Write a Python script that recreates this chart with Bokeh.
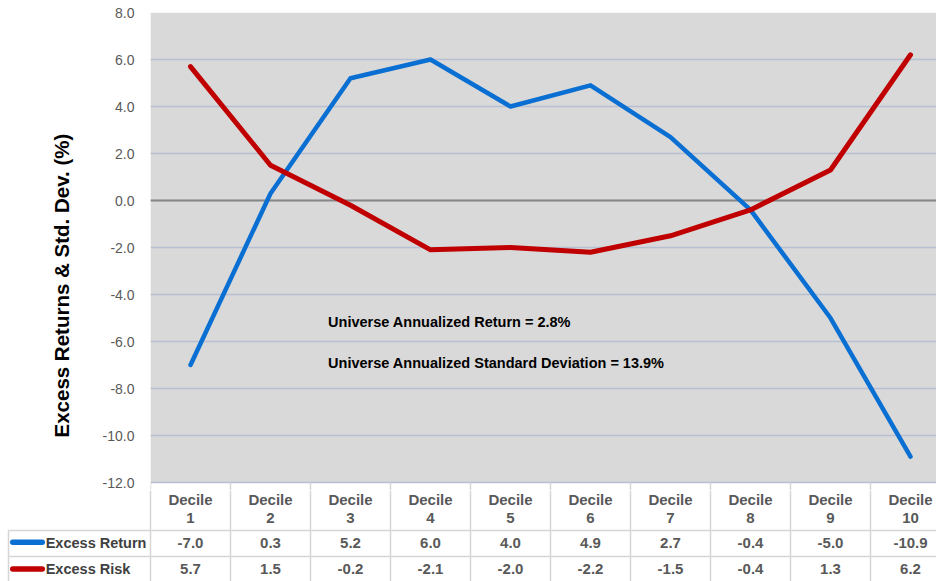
from bokeh.plotting import figure
from bokeh.models import Range1d, FixedTicker, NumeralTickFormatter, Span, Title, BoxAnnotation
from bokeh.layouts import column
from bokeh.embed import file_html
from bokeh.resources import INLINE
from bokeh.core.properties import value

# ---- data ----
categories = ["Decile 1", "Decile 2", "Decile 3", "Decile 4", "Decile 5",
              "Decile 6", "Decile 7", "Decile 8", "Decile 9", "Decile 10"]
excess_return = [-7.0, 0.3, 5.2, 6.0, 4.0, 4.9, 2.7, -0.4, -5.0, -10.9]
excess_risk = [5.7, 1.5, -0.2, -2.1, -2.0, -2.2, -1.5, -0.4, 1.3, 6.2]
series_names = ["Excess Return", "Excess Risk"]
y_ticks = [-12, -10, -8, -6, -4, -2, 0, 2, 4, 6, 8]
notes = ["Universe  Annualized Return = 2.8%",
         "Universe  Annualized Standard Deviation = 13.9%"]
y_label = "Excess Returns & Std. Dev. (%)"

BLUE = "#0a6fd2"
RED = "#c00000"
FONT = "Liberation Sans"
GRID = "#d6d6d6"

n = len(categories)
xs = list(range(1, n + 1))
bounds = [i + 0.5 for i in range(n + 1)]
X_END = 10.325
Y_MIN, Y_MAX = y_ticks[0], y_ticks[-1]
Y_LOW = -12.34  # a little room under the plot area for the table's column rules

# ---- chart ----
p = figure(width=936, height=490, x_range=Range1d(0.5, X_END), y_range=Range1d(Y_LOW, Y_MAX),
           output_backend="svg", toolbar_location=None, x_axis_location=None,
           min_border_left=150, min_border_right=0, min_border_top=12, min_border_bottom=0)
p.background_fill_color = "white"
p.border_fill_color = "white"
p.outline_line_color = None

p.add_layout(BoxAnnotation(bottom=Y_MIN, top=Y_MAX, fill_color="#d9d9d9", fill_alpha=1,
                           line_color=None, level="image"))

ax = p.yaxis[0]
ax.ticker = FixedTicker(ticks=y_ticks)
ax.formatter = NumeralTickFormatter(format="0.0")
ax.axis_line_color = None
ax.major_tick_line_color = None
ax.minor_tick_line_color = None
ax.major_label_text_font = FONT
ax.major_label_text_font_size = "14px"
ax.major_label_text_color = "#595959"
ax.major_label_standoff = 10

p.ygrid.ticker = FixedTicker(ticks=y_ticks)
p.ygrid.grid_line_color = "#b6c0d3"
p.ygrid.grid_line_width = 1.5
p.xgrid.grid_line_color = None

p.add_layout(Span(location=0, dimension="width", line_color="#878787",
                  line_width=2, level="underlay"))

# column rules of the table, under the plot area
p.segment(x0=bounds, y0=[Y_LOW] * len(bounds), x1=bounds, y1=[Y_MIN] * len(bounds),
          line_color=GRID, line_width=1.5)

p.line(xs, excess_return, line_color=BLUE, line_width=4.5,
       line_join="round", line_cap="round")
p.line(xs, excess_risk, line_color=RED, line_width=5,
       line_join="round", line_cap="round")

p.text(x=[2.72, 2.72], y=[-5.15, -6.9], text=notes,
       text_font=value(FONT), text_font_style="bold",
       text_font_size="14.5px", text_baseline="middle", text_color="black")

p.add_layout(Title(text=y_label, align="left", offset=53, vertical_align="bottom",
                   standoff=54, text_font_size="20.5px", text_font_style="bold",
                   text_font=FONT, text_color="black"), "left")

# ---- data table ----
Y_BOT, Y_TOP = -0.4615, 3.038
X_LEFT = -1.375
t = figure(width=936, height=91, x_range=Range1d(X_LEFT, X_END), y_range=Range1d(Y_BOT, Y_TOP),
           output_backend="svg", toolbar_location=None,
           x_axis_location=None, y_axis_location=None, min_border=0)
t.outline_line_color = None
t.xgrid.grid_line_color = None
t.ygrid.grid_line_color = None

for fig in (p, t):
    if "frame_align" in fig.properties():
        fig.frame_align = False

LB = X_LEFT + 0.1
t.segment(x0=bounds, y0=[Y_BOT] * len(bounds), x1=bounds, y1=[Y_TOP] * len(bounds),
          line_color=GRID, line_width=1.5)
t.segment(x0=[LB] * 2, y0=[0.5, 1.5], x1=[bounds[-1]] * 2, y1=[0.5, 1.5],
          line_color=GRID, line_width=1.5)
t.segment(x0=[LB], y0=[Y_BOT], x1=[LB], y1=[1.5],
          line_color=GRID, line_width=1.5)

head_top = [c.split()[0] for c in categories]
head_num = [c.split()[1] for c in categories]
common = dict(text_font=value(FONT), text_font_style="bold", text_font_size="15px",
              text_align="center", text_baseline="middle", text_color="#595959")
t.text(x=xs, y=[2.7] * n, text=head_top, **common)
t.text(x=xs, y=[1.98] * n, text=head_num, **common)
t.text(x=xs, y=[1.0] * n, text=[f"{v:.1f}" for v in excess_return], **common)
t.text(x=xs, y=[0.0] * n, text=[f"{v:.1f}" for v in excess_risk], **common)

t.segment(x0=[-1.222, -1.222], y0=[1.05, 0.02], x1=[-0.853, -0.853], y1=[1.05, 0.02],
          line_color=[BLUE, RED], line_width=5.5, line_cap="round")
t.text(x=[-0.81, -0.81], y=[1.0, 0.0], text=series_names,
       text_font=value(FONT), text_font_style="bold", text_font_size="14.5px",
       text_align="left", text_baseline="middle", text_color="#404040")

layout = column(p, t, spacing=0)
open("out.html", "w").write(file_html(layout, INLINE))
